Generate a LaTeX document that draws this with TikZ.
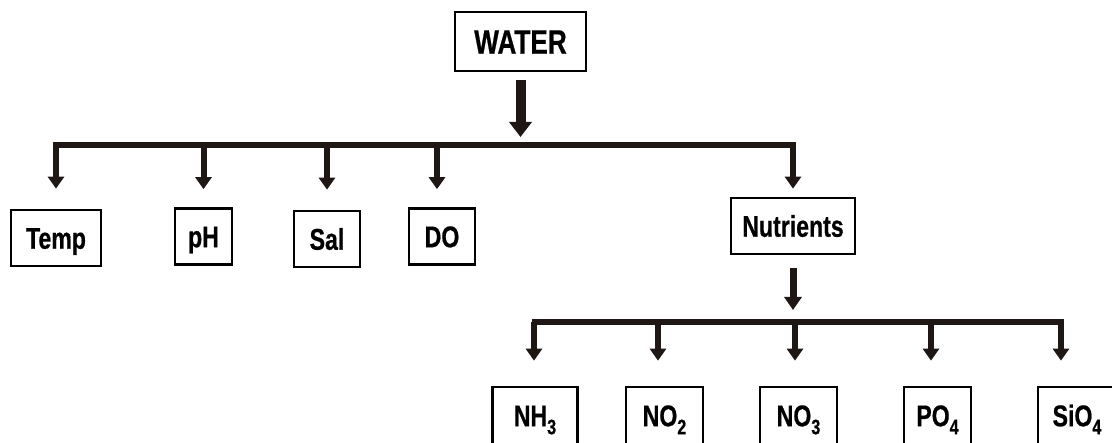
\documentclass[tikz,border=0pt]{standalone}
\usepackage{fontspec}
\newfontfamily\boxfont{Liberation Sans}[FakeStretch=0.77, FakeBold=0.6]
\usetikzlibrary{arrows.meta}
\definecolor{inkbrown}{HTML}{1E1714}
\newcommand\subidx[1]{\raisebox{-8pt}{\fontsize{21}{21}\selectfont#1}}

\begin{document}
\begin{tikzpicture}[x=1pt, y=-1pt,
    box/.style={draw, line width=2.7pt, minimum height=56pt, inner sep=0pt, text height=21.5pt, text depth=0pt,
      font=\boxfont\bfseries\fontsize{30}{32}\selectfont},
    bar/.style={draw=inkbrown, line width=6.5pt, line cap=rect},
    branch/.style={draw=inkbrown, line width=6pt, -{Triangle[width=16pt,length=12pt]}},
    bigarrow/.style={draw=inkbrown, line width=10pt, -{Triangle[width=22pt,length=15pt]}},
    midarrow/.style={draw=inkbrown, line width=7pt, -{Triangle[width=17pt,length=13pt]}}]
    \useasboundingbox (0,0) rectangle (1112,443);
    % top
    \node[box, minimum width=131pt, minimum height=59pt, text height=24.5pt,
      font=\boxfont\bfseries\fontsize{34}{36}\selectfont] (water) at (520.5,41.5) {WATER};
    \coordinate (hub1) at (520,145);
    % first row
    \node[box, minimum width=90pt] (temp) at (56,238) {Temp};
    \node[box, minimum width=57pt] (ph) at (203.5,236.5) {pH};
    \node[box, minimum width=66pt] (sal) at (327,239) {Sal};
    \node[box, minimum width=66pt] (do) at (442,236.5) {DO};
    \node[box, minimum width=124pt] (nutr) at (793,226) {Nutrients};
    \coordinate (hub2) at (793,322);
    % second row
    \node[box, minimum width=85pt, minimum height=57pt] (nh3) at (535,415.5) {NH\subidx{3}};
    \node[box, minimum width=77pt, minimum height=57pt] (no2) at (664.5,415.5) {NO\subidx{2}};
    \node[box, minimum width=77pt, minimum height=57pt] (no3) at (798.5,415.5) {NO\subidx{3}};
    \node[box, minimum width=67pt, minimum height=57pt] (po4) at (937.5,415.5) {PO\subidx{4}};
    \node[box, minimum width=78pt, minimum height=57pt] (sio4) at (1077,415.5) {SiO\subidx{4}};

    \draw[bigarrow, shorten <=8pt, shorten >=8pt] (water.south) -- (water.south |- hub1);
    \draw[bar] (temp |- hub1) -- (nutr |- hub1);
    \foreach \n/\dx/\gap in {temp/0/20, ph/0/18, sal/0/20, do/-5/18, nutr/0/8}
      \draw[branch, shorten >=\gap pt] ([xshift=\dx pt]\n.north |- hub1) -- ([xshift=\dx pt]\n.north);

    \draw[midarrow, shorten <=13pt, shorten >=12pt] (nutr.south) -- (nutr.south |- hub2);
    \draw[bar] (nh3 |- hub2) -- ([xshift=-16pt]sio4.north |- hub2);
    \foreach \n/\dx in {nh3/-1, no2/-6.5, no3/-3.5, po4/-6.5, sio4/-16}
      \draw[branch, shorten >=25pt] ([xshift=\dx pt]\n.north |- hub2) -- ([xshift=\dx pt]\n.north);
  \end{tikzpicture}
\end{document}
